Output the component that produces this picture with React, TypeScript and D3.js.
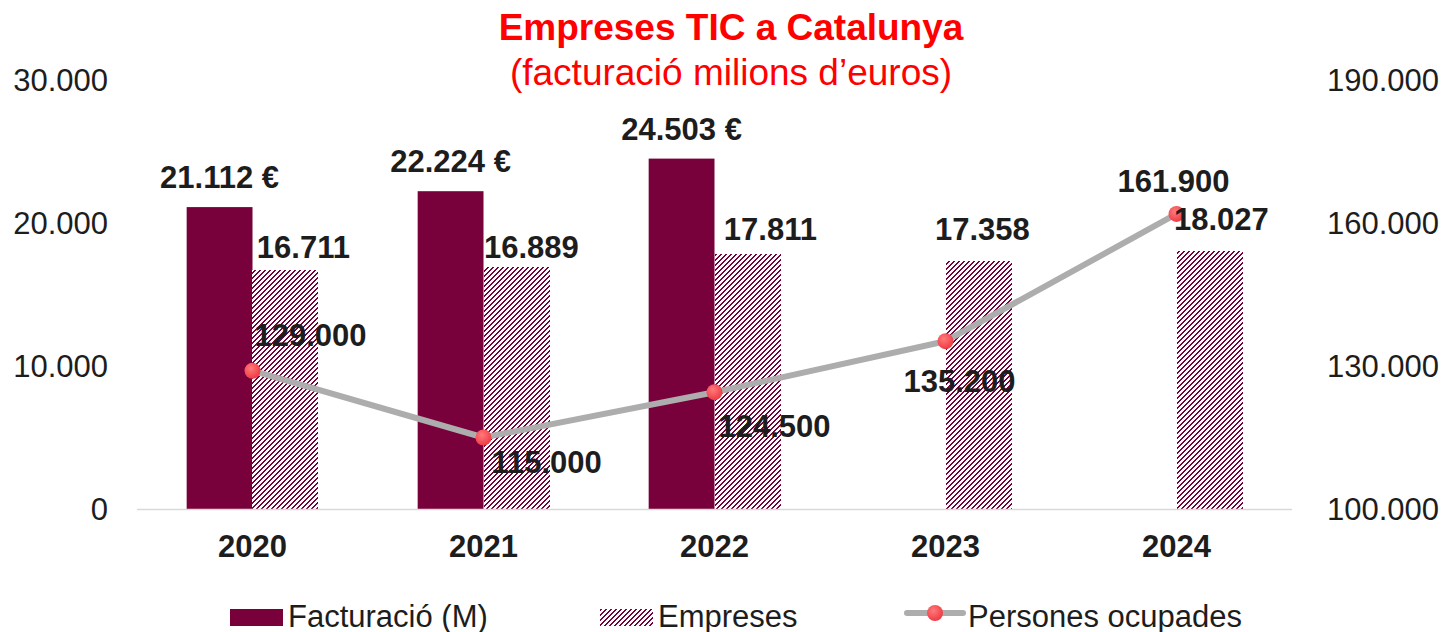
import * as d3 from 'd3';

const years = ['2020', '2021', '2022', '2023', '2024'];
const facturacio: (number | null)[] = [21112, 22224, 24503, null, null];
const empreses = [16711, 16889, 17811, 17358, 18027];
const persones = [129000, 115000, 124500, 135200, 161900];
const leftTicks = [0, 10000, 20000, 30000];
const rightTicks = [100000, 130000, 160000, 190000];

// manual label nudges, as in the original chart
const empLabelDx = [18, 15, 23, 4, 12];
const empLabelGap = [12, 9, 14, 21, 21];
const perLabelDx = [2, 8, 4, -42, -59];
const perLabelDy = [-25, 35, 45, 51, -22];

const width = 1450;
const height = 632;
const maroon = '#78003B';
const font = '"Liberation Sans", Arial, sans-serif';
const textColor = '#1d1d1d';

const locale = d3.formatLocale({
  decimal: ',',
  thousands: '.',
  grouping: [3],
  currency: ['', '\u00a0€'],
});
const fmt = locale.format(',d');

// pixel hatch ("/" diagonal), 5px tile, 2px strokes
const hatchSize = 5;
const hatchRows = d3.range(hatchSize);

const App = () => {
  const x = d3
    .scaleBand()
    .domain(years)
    .range([137, 1292])
    .paddingInner(0.43)
    .paddingOuter(0.215);
  const x1 = d3
    .scaleBand()
    .domain(['f', 'e'])
    .range([0, x.bandwidth()]);
  const yLeft = d3.scaleLinear().domain([0, 30000]).range([509, 80]);
  const yRight = d3.scaleLinear().domain([100000, 190000]).range([509, 80]);

  const cx = (d: string) => (x(d) ?? 0) + x.bandwidth() / 2;

  const line = d3
    .line<number>()
    .x((_, i) => cx(years[i]))
    .y((d) => yRight(d));

  return (
    <svg
      width={width}
      height={height}
      style={{ position: 'absolute', left: 0, top: 0, background: '#fff' }}
      fontFamily={font}
    >
      <defs>
        <pattern id="hatch" patternUnits="userSpaceOnUse" width={hatchSize} height={hatchSize}>
          <rect width={hatchSize} height={hatchSize} fill="#fff" />
          {hatchRows.map((r) => {
            const px = hatchSize - 1 - r;
            return (
              <g key={r} shapeRendering="crispEdges">
                <rect x={px} y={r} width={2} height={1} fill={maroon} />
                {px + 2 > hatchSize && <rect x={0} y={r} width={px + 2 - hatchSize} height={1} fill={maroon} />}
              </g>
            );
          })}
        </pattern>
        <radialGradient id="dot" cx="40%" cy="35%" r="65%">
          <stop offset="0%" stopColor="#FF7A7A" />
          <stop offset="100%" stopColor="#EE3B45" />
        </radialGradient>
      </defs>

      {/* title */}
      <text x={731} y={40} textAnchor="middle" fill="#FF0000" fontSize={37} fontWeight="bold">
        Empreses TIC a Catalunya
      </text>
      <text x={731} y={85} textAnchor="middle" fill="#FF0000" fontSize={37}>
        (facturació milions d’euros)
      </text>

      {/* axes labels */}
      {leftTicks.map((t) => (
        <text key={t} x={108} y={yLeft(t)} dy="0.36em" textAnchor="end" fontSize={31} fill={textColor}>
          {fmt(t)}
        </text>
      ))}
      {rightTicks.map((t) => (
        <text key={t} x={1327} y={yRight(t)} dy="0.36em" textAnchor="start" fontSize={31} fill={textColor}>
          {fmt(t)}
        </text>
      ))}
      {years.map((yr) => (
        <text key={yr} x={cx(yr)} y={557} textAnchor="middle" fontSize={31} fontWeight="bold" fill={textColor}>
          {yr}
        </text>
      ))}

      {/* bars */}
      {years.map((yr, i) => {
        const f = facturacio[i];
        const bx = x(yr) ?? 0;
        return (
          <g key={yr}>
            {f != null && (
              <rect
                x={bx + (x1('f') ?? 0)}
                y={yLeft(f)}
                width={x1.bandwidth()}
                height={yLeft(0) - yLeft(f)}
                fill={maroon}
              />
            )}
            <rect
              x={Math.round(bx + (x1('e') ?? 0))}
              y={Math.round(yLeft(empreses[i]))}
              width={Math.round(x1.bandwidth())}
              height={Math.round(yLeft(0) - yLeft(empreses[i]))}
              fill="url(#hatch)"
            />
          </g>
        );
      })}

      <line x1={137} x2={1292} y1={yLeft(0) + 0.5} y2={yLeft(0) + 0.5} stroke="#D9D9D9" strokeWidth={1.5} />

      {/* line series */}
      <path d={line(persones) ?? ''} fill="none" stroke="#ADADAD" strokeWidth={6} strokeLinejoin="round" />
      {persones.map((p, i) => (
        <circle key={i} cx={cx(years[i])} cy={yRight(p)} r={8} fill="url(#dot)" />
      ))}

      {/* data labels */}
      {years.map((yr, i) => {
        const f = facturacio[i];
        const bx = x(yr) ?? 0;
        const fCenter = bx + (x1('f') ?? 0) + x1.bandwidth() / 2;
        const eCenter = bx + (x1('e') ?? 0) + x1.bandwidth() / 2;
        return (
          <g key={'lab' + yr} fontSize={31} fontWeight="bold" fill={textColor}>
            {f != null && (
              <text x={fCenter} y={yLeft(f) - 19} textAnchor="middle">
                {fmt(f) + ' €'}
              </text>
            )}
            <text x={eCenter + empLabelDx[i]} y={yLeft(empreses[i]) - empLabelGap[i]} textAnchor="middle">
              {fmt(empreses[i])}
            </text>
            <text x={cx(yr) + perLabelDx[i]} y={yRight(persones[i]) + perLabelDy[i]} textAnchor="start">
              {fmt(persones[i])}
            </text>
          </g>
        );
      })}

      {/* legend */}
      <g fontSize={31} fill={textColor}>
        <rect x={230} y={609} width={53} height={17} fill={maroon} />
        <text x={288} y={627}>Facturació (M)</text>
        <rect x={600} y={609} width={53} height={17} fill="url(#hatch)" />
        <text x={658} y={627}>Empreses</text>
        <line x1={907} x2={963} y1={613} y2={613} stroke="#ADADAD" strokeWidth={6} strokeLinecap="round" />
        <circle cx={935} cy={613} r={8} fill="url(#dot)" />
        <text x={968} y={627}>Persones ocupades</text>
      </g>
    </svg>
  );
};

export default App;
